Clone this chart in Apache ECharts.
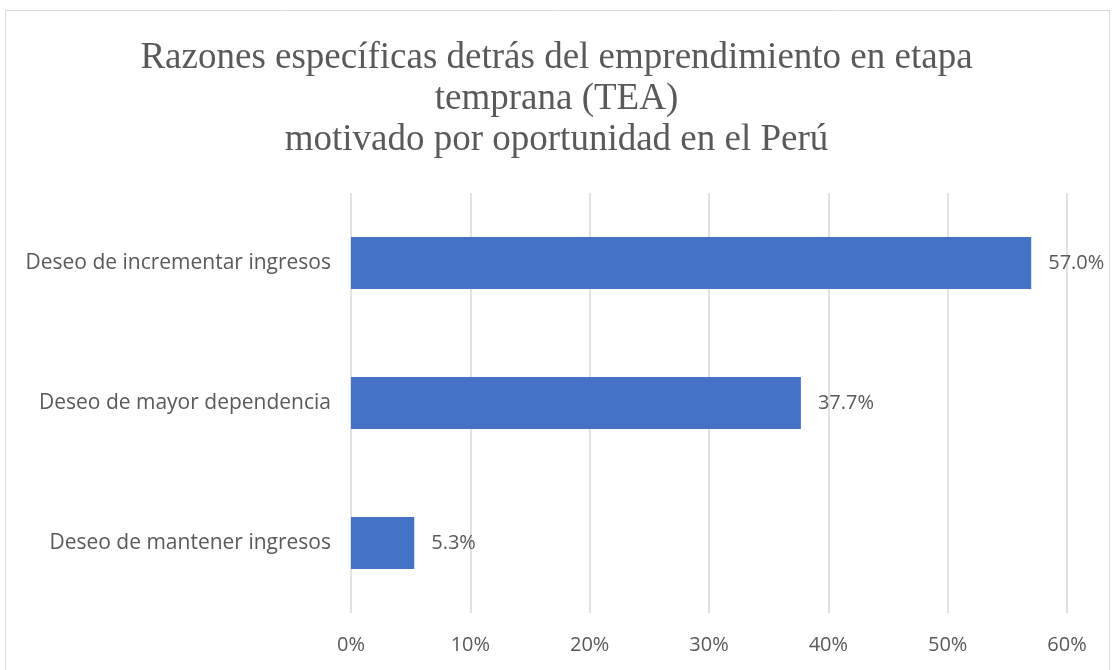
<!DOCTYPE html>
<html>
<head>
<meta charset="utf-8">
<script src="https://cdn.jsdelivr.net/npm/echarts@6/dist/echarts.min.js"></script>
<style>
  html, body { margin: 0; padding: 0; background: #fff; }
  #chart { width: 1113px; height: 670px; }
</style>
</head>
<body>
<div id="chart"></div>
<script>
const titleText = 'Razones específicas detrás del emprendimiento en etapa\ntemprana (TEA)\nmotivado por oportunidad en el Perú';
const categories = ['Deseo de incrementar ingresos', 'Deseo de mayor dependencia', 'Deseo de mantener ingresos'];
const values = [57.0, 37.7, 5.3];

const chart = echarts.init(document.getElementById('chart'));
chart.setOption({
  animation: false,
  graphic: [{
    type: 'rect',
    shape: { x: 5.5, y: 10.5, width: 1104, height: 680 },
    style: { fill: 'none', stroke: '#d9d9d9', lineWidth: 1 },
    silent: true
  }],
  title: {
    text: titleText,
    left: 'center',
    top: 33,
    textStyle: {
      fontFamily: 'Liberation Serif',
      fontWeight: 'normal',
      fontSize: 37,
      lineHeight: 41,
      color: '#595959'
    }
  },
  grid: { left: 351, right: 46, top: 193, bottom: 57 },
  xAxis: {
    type: 'value',
    min: 0,
    max: 60,
    interval: 10,
    axisLine: { show: false },
    axisTick: { show: false },
    splitLine: { lineStyle: { color: '#d9d9d9', width: 1.5 } },
    axisLabel: {
      formatter: '{value}%',
      margin: 22,
      color: '#595959',
      fontFamily: 'Open Sans',
      fontSize: 20
    }
  },
  yAxis: {
    type: 'category',
    data: categories,
    inverse: true,
    axisLine: { show: false },
    axisTick: { show: false },
    axisLabel: {
      margin: 20,
      color: '#595959',
      fontFamily: 'Open Sans',
      fontSize: 21
    }
  },
  series: [{
    type: 'bar',
    data: values,
    barWidth: 52,
    itemStyle: { color: '#4472C4' },
    label: {
      show: true,
      position: 'right',
      distance: 17,
      formatter: p => p.value.toFixed(1) + '%',
      color: '#595959',
      fontFamily: 'Open Sans',
      fontSize: 20
    }
  }]
});
</script>
</body>
</html>
